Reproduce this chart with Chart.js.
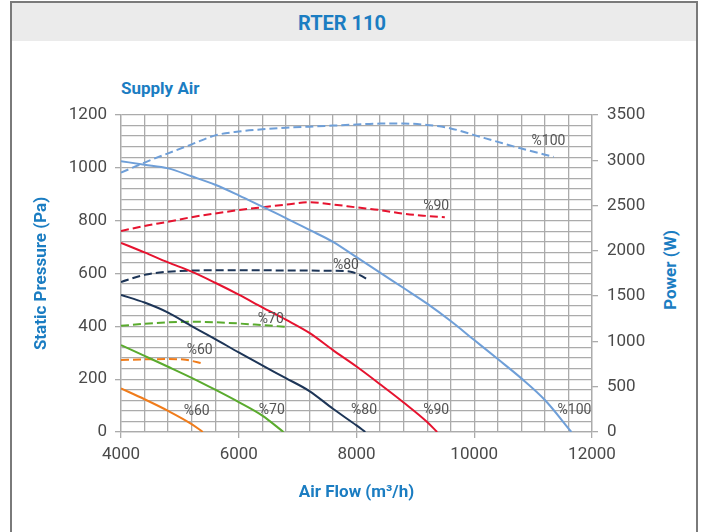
<!DOCTYPE html>
<html><head><meta charset="utf-8">
<script src="https://cdn.jsdelivr.net/npm/chart.js@4.4.0/dist/chart.umd.min.js"></script>
<style>
html,body{margin:0;padding:0;background:#fff;}
#wrap{position:relative;width:704px;height:532px;overflow:hidden;font-family:Roboto,"Noto Sans",sans-serif;}
#frame{position:absolute;left:10px;top:1px;width:688px;height:560px;border:2px solid #7a7a7a;border-bottom:none;box-sizing:border-box;}
#band{position:absolute;left:12px;top:3px;width:684px;height:38px;background:#ebebeb;}
#title{position:absolute;left:0;top:3px;width:684px;height:38px;line-height:40px;text-align:center;font-weight:700;font-size:20px;color:#1b7dc2;}
#sub{position:absolute;left:121px;top:78px;font-weight:700;font-size:17px;color:#1b7dc2;}
#pw{position:absolute;left:670px;top:270px;transform:translate(-50%,-50%) rotate(-90deg);font-weight:700;font-size:17px;color:#1b7dc2;white-space:nowrap;}
canvas{position:absolute;left:0;top:0;}
</style></head>
<body><div id="wrap">
<div id="frame"></div><div id="band"></div>
<div id="title">RTER 110</div>
<div id="sub">Supply Air</div>
<div id="pw">Power (W)</div>
<canvas id="c" width="704" height="532"></canvas>
</div>
<script>
// ---- data ----
const xTickLabels = [4000, 6000, 8000, 10000, 12000];
const paTickLabels = [0, 200, 400, 600, 800, 1000, 1200];
const wTickLabels = [0, 500, 1000, 1500, 2000, 2500, 3000, 3500];

// Static pressure (Pa) curves
const pa100Flow = [4000,4400,4800,5200,5600,6000,6400,6800,7200,7600,8000,8400,8800,9200,9600,10000,10400,10800,11200,11650];
const pa100 = [1025,1012,998,968,936,896,853,810,765,720,662,603,545,486,420,348,276,203,121,0];
const pa90Flow = [4000,4400,4800,5200,5600,6000,6400,6800,7200,7600,8000,8400,8800,9200,9370];
const pa90 = [716,680,642,607,565,520,472,425,375,310,248,181,112,38,0];
const pa80Flow = [4000,4400,4800,5200,5600,6000,6400,6800,7200,7600,8000,8150];
const pa80 = [519,490,452,401,352,301,252,204,155,88,25,0];
const pa70Flow = [4000,4400,4800,5200,5600,6000,6400,6760];
const pa70 = [329,288,247,205,160,113,62,0];
const pa60Flow = [4000,4400,4800,5200,5390];
const pa60 = [165,124,80,30,0];

// Power (W) curves
const w100Flow = [4000,4400,4800,5200,5600,6000,6400,6800,7200,7600,8000,8400,8800,9200,9600,10000,10400,10800,11350];
const w100 = [2863,2975,3077,3176,3275,3318,3342,3360,3371,3383,3395,3405,3405,3390,3352,3278,3203,3130,3038];
const w90Flow = [4000,4400,4800,5200,5600,6000,6400,6800,7200,7600,8000,8400,8800,9200,9500];
const w90 = [2219,2275,2322,2372,2413,2450,2481,2510,2536,2512,2480,2450,2410,2385,2370];
const w80Flow = [4000,4400,4800,5200,5600,6000,6400,6800,7200,7600,7900,8050,8200];
const w80 = [1656,1735,1770,1782,1786,1786,1785,1784,1782,1780,1770,1735,1680];
const w70Flow = [4000,4400,4800,5200,5600,6000,6400,6800];
const w70 = [1172,1195,1211,1217,1212,1198,1180,1162];
const w60Flow = [4000,4400,4800,5100,5400];
const w60 = [795,802,805,797,755];

// curve labels (text, flow, pressure-axis value)
const curveLabelText = ['%100','%90','%80','%70','%60','%60','%70','%80','%90','%100'];
const curveLabelFlow = [11260,9353,7821,6545,5336,5285,6562,8128,9353,11702];
const curveLabelPa = [1101,852,632,424,307,76,83,83,83,83];

// ---- chart ----
const C100 = '#6f9fd8', C90 = '#e6132f', C80 = '#1d3557', C70 = '#5aab2e', C60 = '#f07c1b';
const BLUE = '#1b7dc2', GRID = '#ababab', TICK = '#4a4a4a';

function ds(flow, vals, color, axis, dashed) {
  return {
    data: flow.map((f, i) => ({x: f, y: vals[i]})),
    yAxisID: axis, borderColor: color, backgroundColor: color,
    borderWidth: 2, borderDash: dashed ? [8, 4] : [],
    pointRadius: 0, cubicInterpolationMode: 'monotone', fill: false
  };
}

const curveLabels = {
  id: 'curveLabels',
  afterDatasetsDraw(chart) {
    const {ctx, scales} = chart;
    ctx.save();
    ctx.font = '14px Roboto, sans-serif';
    ctx.fillStyle = '#555';
    ctx.textAlign = 'center';
    ctx.textBaseline = 'middle';
    curveLabelText.forEach((t, i) => {
      ctx.fillText(t, scales.x.getPixelForValue(curveLabelFlow[i]), scales.y.getPixelForValue(curveLabelPa[i]));
    });
    ctx.restore();
  }
};

const tickFont = {family: 'Roboto, sans-serif', size: 17};
const titleFont = {family: 'Roboto, sans-serif', size: 17, weight: 'bold'};

new Chart(document.getElementById('c'), {
  type: 'line',
  data: {
    datasets: [
      ds(pa100Flow, pa100, C100, 'y', false),
      ds(w100Flow, w100, C100, 'y1', true),
      ds(pa90Flow, pa90, C90, 'y', false),
      ds(w90Flow, w90, C90, 'y1', true),
      ds(pa80Flow, pa80, C80, 'y', false),
      ds(w80Flow, w80, C80, 'y1', true),
      ds(pa70Flow, pa70, C70, 'y', false),
      ds(w70Flow, w70, C70, 'y1', true),
      ds(pa60Flow, pa60, C60, 'y', false),
      ds(w60Flow, w60, C60, 'y1', true)
    ]
  },
  options: {
    responsive: false,
    animation: false,
    devicePixelRatio: 1,
    layout: {padding: {top: 115, left: 0, right: 0, bottom: 0}},
    plugins: {legend: {display: false}, tooltip: {enabled: false}, title: {display: false}},
    scales: {
      x: {
        type: 'linear', min: 4000, max: 12000,
        ticks: {stepSize: 400, autoSkip: false, maxRotation: 0, font: tickFont, color: TICK, padding: 7,
          callback: v => xTickLabels.includes(v) ? String(v) : ''},
        grid: {color: GRID, lineWidth: 1.3, tickLength: 6,
          tickColor: c => (c.tick && xTickLabels.includes(c.tick.value)) ? GRID : 'rgba(0,0,0,0)'},
        border: {color: GRID, width: 1.3},
        title: {display: true, text: 'Air Flow (m³/h)', color: BLUE, font: titleFont, padding: {top: 0, bottom: 29}},
        afterFit: s => { s.height = 100; }
      },
      y: {
        type: 'linear', position: 'left', min: 0, max: 1200,
        ticks: {stepSize: 40, autoSkip: false, font: tickFont, color: TICK, padding: 8,
          callback: v => paTickLabels.includes(v) ? String(v) : ''},
        grid: {color: GRID, lineWidth: 1.3, tickLength: 6,
          tickColor: c => (c.tick && paTickLabels.includes(c.tick.value)) ? GRID : 'rgba(0,0,0,0)'},
        border: {color: GRID, width: 1.3},
        title: {display: true, text: 'Static Pressure (Pa)', color: BLUE, font: titleFont, padding: {top: 32, bottom: 0}},
        afterFit: s => { s.width = 121; }
      },
      y1: {
        type: 'linear', position: 'right', min: 0, max: 3500,
        ticks: {stepSize: 500, autoSkip: false, font: tickFont, color: TICK, padding: 9,
          callback: v => wTickLabels.includes(v) ? String(v) : ''},
        grid: {drawOnChartArea: false, color: GRID, lineWidth: 1.3, tickLength: 6},
        border: {color: GRID, width: 1.3},
        afterFit: s => { s.width = 112; }
      }
    }
  },
  plugins: [curveLabels]
});
</script>
</body></html>
